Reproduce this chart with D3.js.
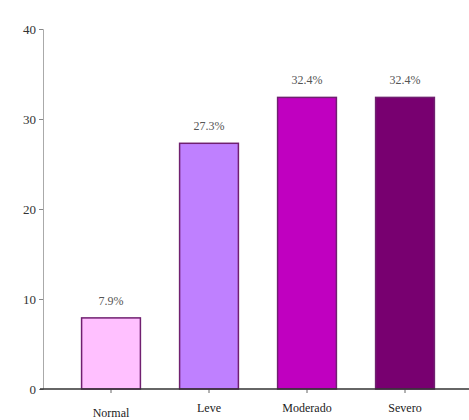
<!DOCTYPE html>
<html>
<head>
<meta charset="utf-8">
<script src="https://cdn.jsdelivr.net/npm/d3@7"></script>
<style>
  body { margin: 0; background: #fff; }
  text { font-family: "Liberation Serif", "DejaVu Serif", serif; }
</style>
</head>
<body>
<div id="chart"></div>
<script>
// data
const categories = ["Normal", "Leve", "Moderado", "Severo"];
const values = [7.9, 27.3, 32.4, 32.4];
const yTicks = [0, 10, 20, 30, 40];
const barColors = ["#ffc0ff", "#bf80ff", "#c000c0", "#780070"];

const width = 469, height = 420;

const svg = d3.select("#chart")
  .append("svg")
  .attr("width", width)
  .attr("height", height);

// scales
const x = d3.scaleBand()
  .domain(categories)
  .range([62, 454])
  .paddingInner(0.4)
  .paddingOuter(0.2);

const y = d3.scaleLinear()
  .domain([0, 40])
  .range([389, 29]);

// y axis
const yAxis = svg.append("g")
  .attr("transform", "translate(43,0)")
  .call(d3.axisLeft(y).tickValues(yTicks).tickSize(4).tickPadding(3));
yAxis.select(".domain").attr("stroke", "#aaa");
yAxis.selectAll(".tick line").attr("stroke", "#888");
yAxis.selectAll("text")
  .attr("font-size", 13)
  .attr("fill", "#333")
  .style("font-family", "'Liberation Serif', serif");

// bars
svg.selectAll(".bar")
  .data(values)
  .enter().append("rect")
  .attr("class", "bar")
  .attr("x", (d, i) => x(categories[i]))
  .attr("y", d => y(d))
  .attr("width", x.bandwidth())
  .attr("height", d => y(0) - y(d))
  .attr("fill", (d, i) => barColors[i])
  .attr("stroke", "#702070")
  .attr("stroke-width", 1.5);

// value labels
svg.selectAll(".val")
  .data(values)
  .enter().append("text")
  .attr("class", "val")
  .attr("x", (d, i) => x(categories[i]) + x.bandwidth() / 2)
  .attr("y", d => y(d) - 13)
  .attr("text-anchor", "middle")
  .attr("font-size", 12)
  .attr("fill", "#555")
  .text(d => d.toFixed(1) + "%");

// x baseline + ticks
const xAxis = svg.append("g")
  .attr("transform", "translate(0," + y(0) + ")")
  .call(d3.axisBottom(x).tickSize(4).tickPadding(10));
xAxis.select(".domain").remove();
xAxis.selectAll(".tick line").attr("stroke", "#666");
xAxis.selectAll("text")
  .attr("font-size", 12)
  .attr("fill", "#222")
  .attr("dy", (d, i) => i === 0 ? "1.15em" : "0.71em")
  .style("font-family", "'Liberation Serif', serif");

svg.append("line")
  .attr("x1", 40).attr("x2", width)
  .attr("y1", y(0)).attr("y2", y(0))
  .attr("stroke", "#333")
  .attr("stroke-width", 1.5);
</script>
</body>
</html>
